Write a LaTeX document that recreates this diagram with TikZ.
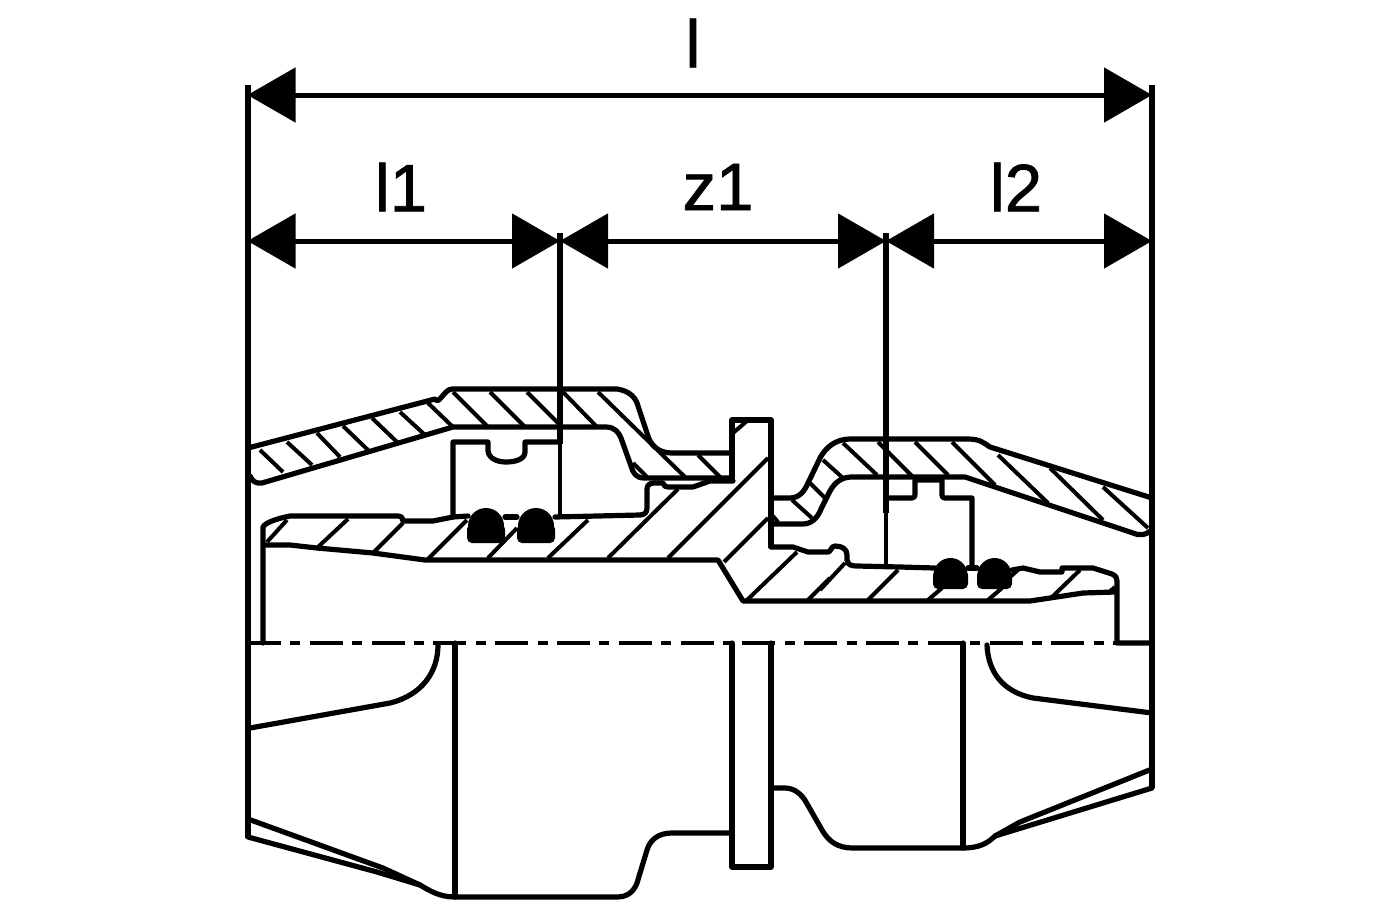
\documentclass[tikz,border=0pt]{standalone}
\usepackage{fontspec}
\setmainfont{Liberation Sans}
\newfontfamily\lblfont[FakeBold=1.2]{Liberation Sans}
\usetikzlibrary{arrows.meta}
\tikzset{
  outline/.style={line width=5.2pt,line join=round,line cap=round},
  hatch/.style={line width=4pt,line cap=butt},
  frame/.style={line width=6pt},
  thinframe/.style={line width=4.6pt},
  dim/.style={line width=5pt,{Triangle[length=48pt,width=54pt]}-{Triangle[length=48pt,width=54pt]}},
  centre/.style={line width=4pt,dash pattern=on 33pt off 9.4pt on 10pt off 9.4pt},
  lbl/.style={font=\lblfont\fontsize{67}{67}\selectfont,inner sep=0pt,text=black}
}
\begin{document}
\begin{tikzpicture}[x=1pt,y=-1pt]
\useasboundingbox (0,0) rectangle (1400,900);
\fill[white] (0,0) rectangle (1400,900);
% named coordinates for the dimensioning
\coordinate (LT) at (247.5,85);
\coordinate (LB) at (247.5,838);
\coordinate (RT) at (1152,85);
\coordinate (RB) at (1152,788);
\coordinate (TA) at (247.5,95);
\coordinate (TB) at (1152,95);
\coordinate (MA) at (247.5,241);
\coordinate (MB) at (560,241);
\coordinate (MC) at (886,241);
\coordinate (MD) at (1152,241);
\coordinate (BTop) at (560,233);
\coordinate (BMid) at (560,444);
\coordinate (BBot) at (560,517);
\coordinate (CTop) at (886,233);
\coordinate (CMid) at (886,513);
\coordinate (CBot) at (886,567);
\coordinate (CLa) at (248,643);
\coordinate (CLb) at (1117,643);
% frame and dimensions
\draw[frame] (LT) -- (LB);
\draw[frame] (RT) -- (RB);
\draw[dim] (TA) -- (TB);
\draw[dim] (MA) -- (MB);
\draw[dim] (MB) -- (MC);
\draw[dim] (MC) -- (MD);
\draw[frame] (BTop) -- (BMid);
\draw[thinframe] (BMid) -- (BBot);
\draw[frame] (CTop) -- (CMid);
\draw[thinframe] (CMid) -- (CBot);
\node[lbl] (ltot) at (693,43) {l};
\node[lbl] (lone) at (401,187) {l1};
\node[lbl] (zone) at (718,187) {z1};
\node[lbl] (ltwo) at (1016,187) {l2};
% centre line
\draw[centre] (CLa) -- (CLb);
% left sleeve
\draw[outline] (248,448) -- (435,399) to[out=-60,in=180] (452,389) -- (617,389)
  .. controls (630,391) and (636,398) .. (638,406) -- (647,433)
  .. controls (650,445) and (658,453) .. (672,453) -- (732,453);
\draw[outline] (250,476) .. controls (252,481) and (256,484) .. (262,483)
  -- (453,427) -- (606,427) .. controls (615,427) and (619,433) .. (621,438)
  -- (631,466) .. controls (633,473) and (636,478) .. (644,478) -- (732,478);
\foreach \a/\b/\c/\d in {260/450/283/472,287/442/312/465,317/433/340/457,343/426/368/450,
  372/418/397/442,400/412/425/435,428/403/453/427,453/392/488/427,490/392/525/427,
  527/392/562/427,563/392/597/427,598/392/685/477,698/455/720/477,633/463/647/477,
  733/433/747/421}
  \draw[hatch] (\a,\b) -- (\c,\d);
% flange
\draw[outline] (732,478) -- (732,420) -- (771,420) -- (771,547);
\draw[outline] (732,643) -- (732,867) -- (771,867) -- (771,643);
% left inner body
\draw[outline] (263,643) -- (263,527) .. controls (265,523) and (275,519) .. (290,516)
  -- (398,516) .. controls (402,516) and (403,519) .. (403,521) -- (433,521) -- (453,517) -- (468,516);
\draw[outline] (505,517) -- (517,517);
\draw[outline] (555,517) -- (640,515) .. controls (645,515) and (647,512) .. (647,508)
  -- (647,489) .. controls (647,485) and (650,483) .. (654,483) -- (663,483)
  .. controls (664,486) and (665,487) .. (668,487) -- (693,487) -- (710,481) -- (733,481);
\draw[outline] (266,545) -- (290,545) -- (317,548) -- (373,553) -- (425,560) -- (718,560)
  -- (743,601) -- (1030,601) -- (1050,598) -- (1083,593) -- (1115,592);
% O-rings, left
\foreach \x in {486,536}{
  \fill[rounded corners=5pt] (\x-19,524) -- (\x-19,543) -- (\x+19,543) -- (\x+19,524) -- cycle;
  \fill (\x-18,526) arc[start angle=180,end angle=360,radius=18];
}
% left inner seat
\draw[outline] (453,517) -- (453,442) -- (488,442) -- (488,451)
  .. controls (489,459) and (498,462) .. (506,462)
  .. controls (516,462) and (525,459) .. (525,452) -- (525,442) -- (558,442);
% left body hatching
\foreach \a/\b/\c/\d in {267/542/287/520,318/547/348/519,373/553/403/523,427/560/467/520,
  488/558/517/528,548/558/588/520,608/558/678/489,668/558/768/458,724/562/768/518,
  747/600/797/552,808/600/830/578,820/590/845/563,868/600/898/570,928/600/942/588,
  988/600/1002/588,1010/577/1018/570,1052/597/1080/570,1108/593/1115/587}
  \draw[hatch] (\a,\b) -- (\c,\d);
% right sleeve
\draw[outline] (772,498) -- (790,498) .. controls (800,498) and (805,490) .. (808,483)
  -- (820,458) .. controls (826,447) and (836,439) .. (850,439) -- (968,439)
  .. controls (980,439) and (984,443) .. (990,447) -- (1152,498);
\draw[outline] (772,524) -- (803,524) .. controls (812,524) and (818,517) .. (821,509)
  -- (830,491) .. controls (835,482) and (842,477) .. (852,477) -- (965,477)
  -- (1133,533) .. controls (1140,536) and (1146,535) .. (1150,531);
\foreach \a/\b/\c/\d in {823/460/843/478,843/443/877/475,878/442/913/477,915/442/948/475,
  952/442/995/485,998/455/1048/503,1050/468/1103/520,1103/487/1148/528,810/483/825/498,
  792/500/812/518,772/515/778/522}
  \draw[hatch] (\a,\b) -- (\c,\d);
% right inner body
\draw[outline] (772,547) -- (793,547) -- (808,552) -- (828,552) .. controls (831,552) and (831,546) .. (835,546)
  .. controls (842,546) and (847,549) .. (847,555) -- (847,560) .. controls (848,565) and (851,566) .. (857,566)
  -- (900,567) -- (935,568);
\draw[outline] (968,568) -- (977,568);
\draw[outline] (1012,570) -- (1023,568) -- (1040,572) -- (1062,572) -- (1062,568) -- (1093,568)
  -- (1112,574) .. controls (1116,576) and (1117,578) .. (1117,581) -- (1117,643) -- (1152,643);
% O-rings, right
\foreach \x in {950.5,994.5}{
  \fill[rounded corners=5pt] (\x-17.5,570) -- (\x-17.5,589) -- (\x+17.5,589) -- (\x+17.5,570) -- cycle;
  \fill (\x-17,575) arc[start angle=180,end angle=360,radius=17];
}
% right seat
\draw[outline] (886,498) -- (912,498) .. controls (915,498) and (915,496) .. (915,494) -- (915,480)
  -- (942,480) -- (942,495) .. controls (942,497) and (943,498) .. (945,498) -- (972,498) -- (972,567);
% lower half, left
\draw[outline] (455,643) -- (455,897);
\draw[outline] (438,645) .. controls (438,672) and (422,695) .. (390,703) -- (250,728);
\draw[outline] (248,819) -- (383,868) -- (420,885) .. controls (430,891) and (440,897) .. (455,897)
  -- (617,897) .. controls (628,897) and (634,891) .. (637,883) -- (647,850)
  .. controls (650,840) and (658,833) .. (672,833) -- (732,833);
\draw[outline] (248,837) -- (377,872) -- (420,885);
% lower half, right
\draw[outline] (963,643) -- (963,848);
\draw[outline] (987,645) .. controls (988,672) and (1003,692) .. (1033,698) -- (1152,713);
\draw[outline] (771,788) -- (785,788) .. controls (795,788) and (802,795) .. (806,802)
  -- (822,830) .. controls (829,842) and (838,848) .. (853,848)
  -- (963,848) .. controls (978,848) and (987,844) .. (995,836) -- (1020,822) -- (1152,769);
\draw[outline] (995,836) -- (1152,788);
\end{tikzpicture}
\end{document}
